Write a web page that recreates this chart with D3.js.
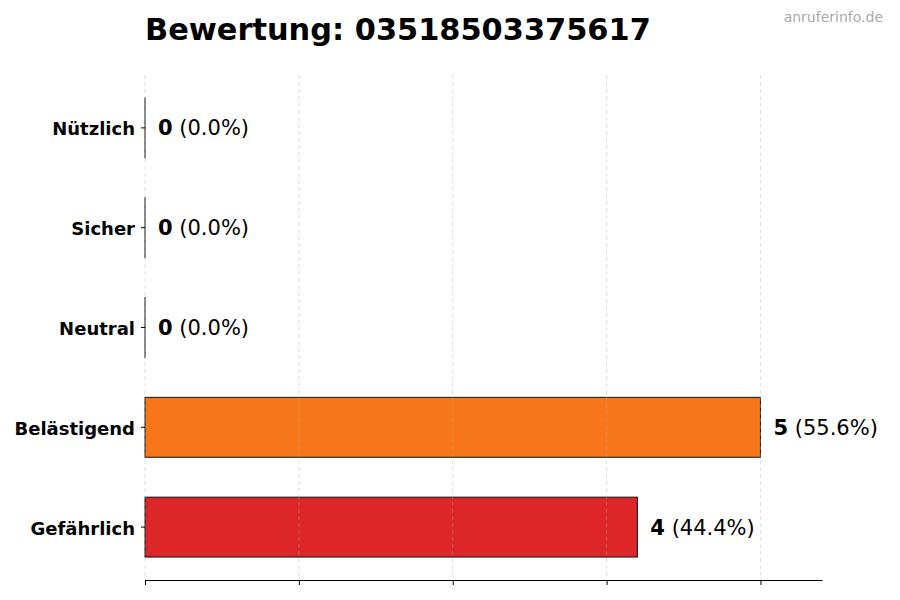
<!DOCTYPE html>
<html>
<head>
<meta charset="utf-8">
<script src="https://cdn.jsdelivr.net/npm/d3@7"></script>
<style>
  body { margin: 0; background: #fff; }
  text { font-family: "DejaVu Sans", sans-serif; }
</style>
</head>
<body>
<svg id="chart" width="900" height="600"></svg>
<script>
const categories = ["Nützlich", "Sicher", "Neutral", "Belästigend", "Gefährlich"];
const counts = [0, 0, 0, 5, 4];
const percents = ["0.0%", "0.0%", "0.0%", "55.6%", "44.4%"];
const colors = ["#22c55e", "#3b82f6", "#9ca3af", "#f77619", "#dc2628"];
const xTicks = [0, 1.25, 2.5, 3.75, 5];
const titleText = "Bewertung: 03518503375617";
const watermark = "anruferinfo.de";

const svg = d3.select("#chart");
const margin = { left: 145, right: 78, top: 75, bottom: 20 };
const W = 900, H = 600;

const x = d3.scaleLinear().domain([0, 5.5]).range([margin.left, W - margin.right]);
const y = d3.scaleBand().domain(categories).range([margin.top, H - margin.bottom])
  .paddingInner(0.4).paddingOuter(0.23);

// bars
svg.append("g").selectAll("rect").data(categories).join("rect")
  .attr("x", x(0))
  .attr("y", d => y(d))
  .attr("width", (d, i) => Math.max(x(counts[i]) - x(0), 0.01))
  .attr("height", y.bandwidth())
  .attr("fill", (d, i) => colors[i])
  .attr("stroke", "#111")
  .attr("stroke-width", 1);

// grid (above bars, faint)
svg.append("g").selectAll("line").data(xTicks).join("line")
  .attr("x1", d => x(d)).attr("x2", d => x(d))
  .attr("y1", margin.top).attr("y2", H - margin.bottom)
  .attr("stroke", "#b0b0b0")
  .attr("stroke-opacity", 0.5)
  .attr("stroke-dasharray", "4,3")
  .attr("stroke-width", 0.8);

// x axis
const xAxis = d3.axisBottom(x).tickValues(xTicks).tickFormat("").tickSize(5).tickSizeOuter(0);
const gx = svg.append("g").attr("transform", `translate(0,${H - margin.bottom})`).call(xAxis);
gx.select(".domain").attr("stroke", "#000").attr("stroke-width", 1);
gx.selectAll(".tick line").attr("stroke", "#000");

// y axis (ticks and labels only)
const yAxis = d3.axisLeft(y).tickSize(4).tickPadding(6);
const gy = svg.append("g").attr("transform", `translate(${x(0)},0)`).call(yAxis);
gy.select(".domain").remove();
gy.selectAll(".tick line").attr("stroke", "#000");
gy.selectAll(".tick text")
  .attr("font-family", "DejaVu Sans")
  .attr("font-weight", "bold")
  .attr("font-size", 18)
  .attr("dy", "0.42em")
  .attr("fill", "#000");

// value labels
const labels = svg.append("g").selectAll("text").data(categories).join("text")
  .attr("x", (d, i) => x(counts[i]) + 13)
  .attr("y", d => y(d) + y.bandwidth() / 2)
  .attr("dy", "0.36em")
  .attr("font-size", 21)
  .attr("fill", "#000");
labels.append("tspan").attr("font-weight", "bold").text((d, i) => counts[i]);
labels.append("tspan").text((d, i) => " (" + percents[i] + ")");

// title
svg.append("text")
  .attr("x", margin.left).attr("y", 40)
  .attr("font-size", 30.4).attr("font-weight", "bold").attr("fill", "#000")
  .text(titleText);

// watermark
svg.append("text")
  .attr("x", 883).attr("y", 22)
  .attr("text-anchor", "end")
  .attr("font-size", 14).attr("fill", "#aaaaaa")
  .text(watermark);
</script>
</body>
</html>
